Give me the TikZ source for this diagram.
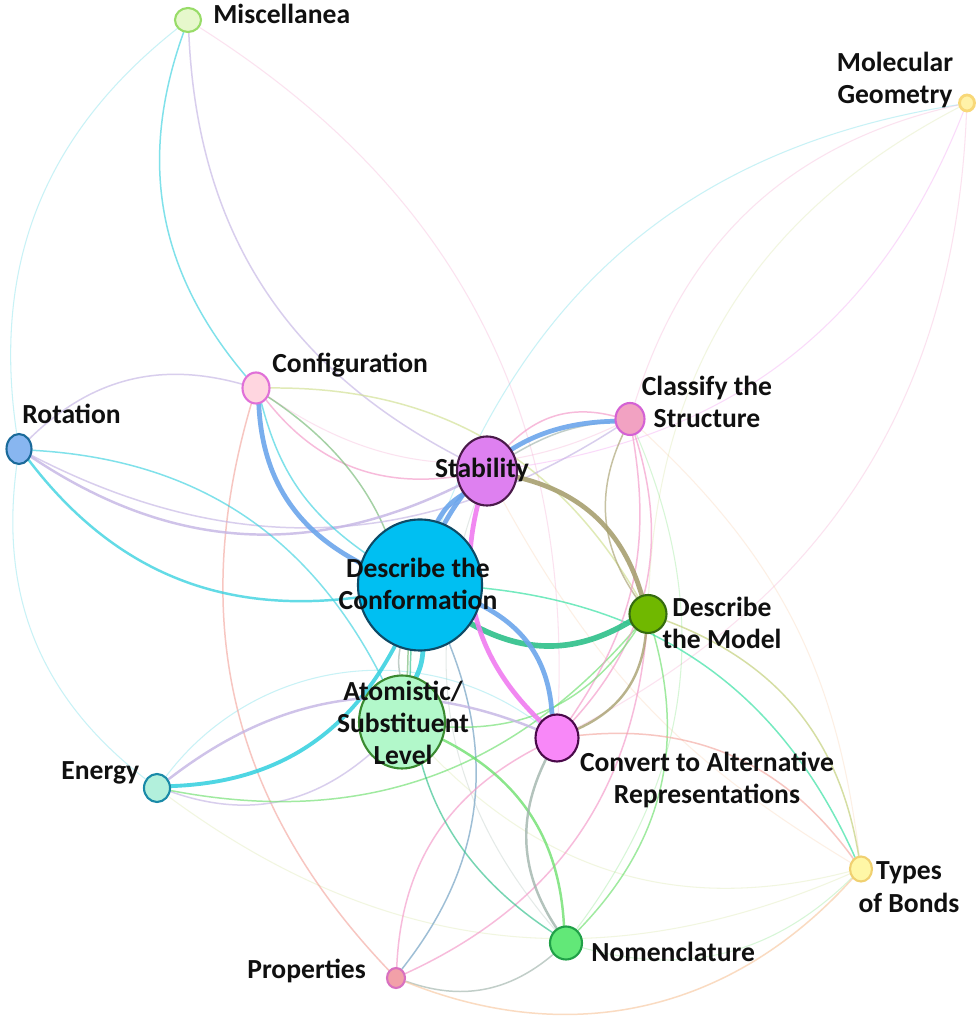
\documentclass[tikz,border=0pt]{standalone}
\usepackage{fontspec}
\setmainfont{Carlito}
\usepackage{tikz}
\usetikzlibrary{shapes.geometric}
\definecolor{ink}{HTML}{101010}
% vertex colours
\definecolor{nConf}{HTML}{00BFF2}\definecolor{bConf}{HTML}{0E4A66}
\definecolor{nStab}{HTML}{DE80F0}\definecolor{bStab}{HTML}{4A1A4A}
\definecolor{nClass}{HTML}{F2A2C2}\definecolor{bClass}{HTML}{D462D4}
\definecolor{nConfig}{HTML}{FFD6E0}\definecolor{bConfig}{HTML}{E070D8}
\definecolor{nRot}{HTML}{88B6F0}\definecolor{bRot}{HTML}{1A6A9A}
\definecolor{nMisc}{HTML}{E6F8CC}\definecolor{bMisc}{HTML}{98DC68}
\definecolor{nGeo}{HTML}{FFF2A8}\definecolor{bGeo}{HTML}{F8D878}
\definecolor{nModel}{HTML}{70B800}\definecolor{bModel}{HTML}{356B10}
\definecolor{nAtom}{HTML}{B2F8CA}\definecolor{bAtom}{HTML}{3A8A30}
\definecolor{nConv}{HTML}{F888F8}\definecolor{bConv}{HTML}{4A0A4A}
\definecolor{nEnergy}{HTML}{B2F0DC}\definecolor{bEnergy}{HTML}{1A8AA8}
\definecolor{nBonds}{HTML}{FFF7A6}\definecolor{bBonds}{HTML}{F0D070}
\definecolor{nNomen}{HTML}{62E878}\definecolor{bNomen}{HTML}{20A048}
\definecolor{nProps}{HTML}{F2A0A8}\definecolor{bProps}{HTML}{D870C0}
% edge colours
\definecolor{eblue}{HTML}{6CA6EC}
\definecolor{ecyan}{HTML}{3CD2E0}
\definecolor{eteal}{HTML}{2EC08A}
\definecolor{emag}{HTML}{F07CF0}
\definecolor{eolive}{HTML}{A8A070}
\definecolor{egreen}{HTML}{6EE06E}
\definecolor{epink}{HTML}{F498C8}
\definecolor{elav}{HTML}{C4B4E4}
\definecolor{eyg}{HTML}{D0E090}
\definecolor{epeach}{HTML}{F8C8A0}
\definecolor{egray}{HTML}{A0B4AC}
\definecolor{esteel}{HTML}{6A9CC0}
\definecolor{esalmon}{HTML}{F4A8A0}
\pgfdeclarelayer{edges}
\pgfsetlayers{edges,main}
\tikzset{
  vtx/.style 2 args={ellipse, draw, line width=1.2pt, inner sep=0pt,
    minimum width=#1, minimum height=#2},
  lab/.style={text=ink, inner sep=0pt,
    font=\fontsize{15.7}{18.4}\selectfont\bfseries},
  labm/.style={lab, align=center},
  wfaint/.style={line width=0.6pt, draw opacity=0.28, line cap=round},
  wthin/.style={line width=0.85pt, draw opacity=0.65, line cap=round},
  wmid/.style={line width=1.4pt, draw opacity=0.8, line cap=round},
  wbig/.style={line width=2.7pt, draw opacity=0.9, line cap=round},
}

\begin{document}
\begin{tikzpicture}[x=0.2mm,y=0.2mm]
  \useasboundingbox (0,0) rectangle (980,1020);
  % vertices
  \node[vtx={24.8mm}{26.2mm}, fill=nConf, draw=bConf] (conf) at (420,435) {};
  \node[vtx={17.2mm}{18.6mm}, fill=nAtom, draw=bAtom] (atom) at (402,298) {};
  \node[vtx={12mm}{13.8mm}, fill=nStab, draw=bStab] (stab) at (487,549) {};
  \node[vtx={8.6mm}{9.4mm}, fill=nConv, draw=bConv] (convert) at (557,282) {};
  \node[vtx={7.4mm}{7.6mm}, fill=nModel, draw=bModel] (model) at (648,406) {};
  \node[vtx={5.8mm}{6.4mm}, fill=nClass, draw=bClass] (classify) at (630,601) {};
  \node[vtx={5.4mm}{6.2mm}, fill=nConfig, draw=bConfig] (config) at (256,632) {};
  \node[vtx={5mm}{6mm}, fill=nRot, draw=bRot] (rot) at (19,571) {};
  \node[vtx={5.2mm}{4.8mm}, fill=nMisc, draw=bMisc] (misc) at (188,1000) {};
  \node[vtx={5.2mm}{5.6mm}, fill=nEnergy, draw=bEnergy] (energy) at (157,232) {};
  \node[vtx={3.6mm}{4mm}, fill=nProps, draw=bProps] (props) at (396,42) {};
  \node[vtx={6.4mm}{6.6mm}, fill=nNomen, draw=bNomen] (nomen) at (566,77) {};
  \node[vtx={4.4mm}{5mm}, fill=nBonds, draw=bBonds] (bonds) at (861,151) {};
  \node[vtx={3mm}{3.2mm}, fill=nGeo, draw=bGeo, line width=1.6pt] (molgeo) at (967,917) {};
  % labels
  \node[lab, anchor=base west] (misc-l) at (213,996) {Miscellanea};
  \node[labm] (molgeo-l) at (895,940) {Molecular\\Geometry};
  \node[lab, anchor=base west] (config-l) at (272,647) {Configuration};
  \node[lab, anchor=base west] (rot-l) at (22,596) {Rotation};
  \node[labm] (classify-l) at (707,618) {Classify the\\Structure};
  \node[lab, anchor=base] (stab-l) at (482,542) {Stability};
  \node[labm] (conf-l) at (418,436) {Describe the\\Conformation};
  \node[labm] (model-l) at (722,397) {Describe\\the Model};
  \node[labm] (atom-l) at (403,297) {Atomistic/\\Substituent\\Level};
  \node[labm] (convert-l) at (707,240) {Convert to Alternative\\Representations};
  \node[lab, anchor=base west] (energy-l) at (61,240) {Energy};
  \node[labm] (bonds-l) at (909,133) {Types\\of Bonds};
  \node[lab, anchor=base west] (nomen-l) at (591,58) {Nomenclature};
  \node[lab, anchor=base west] (props-l) at (247,41) {Properties};
  % connectors
  \begin{pgfonlayer}{edges}
    \fill[white] (0,0) rectangle (980,1020);
    \draw[wfaint, ecyan] (misc) to[bend right] (rot);
    \draw[wfaint, epink] (misc) to[bend left] (convert);
    \draw[wfaint, ecyan] (molgeo) to[bend right] (conf);
    \draw[wfaint, epink] (molgeo) to[bend right] (classify);
    \draw[wfaint, eyg] (molgeo) to[bend right] (model);
    \draw[wfaint, emag] (molgeo) to[bend left] (stab);
    \draw[wfaint, epink] (molgeo) to[bend left] (convert);
    \draw[wfaint, ecyan] (rot) to[bend right] (energy);
    \draw[wfaint, eyg] (energy) to[bend right] (bonds);
    \draw[wfaint, epeach] (stab) to[bend right=15] (bonds);
    \draw[wfaint, epeach] (classify) to[bend left=20] (bonds);
    \draw[wfaint, eyg] (bonds) to[bend left] (atom);
    \draw[wfaint, egreen] (nomen) to[bend right] (bonds);
    \draw[wfaint, egray] (stab) to[bend right] (nomen);
    \draw[wfaint, egreen] (nomen) to[bend right] (classify);
    \draw[wfaint, epink] (config) to[bend right] (classify);
    \draw[wfaint, ecyan] (energy) to[bend left=45] (convert);
    \draw[wthin, ecyan] (misc) to[bend right] (config);
    \draw[wthin, elav] (misc) to[bend right] (stab);
    \draw[wthin, elav] (config) to[bend right] (rot);
    \draw[wthin, epink] (config) to[bend right] (stab);
    \draw[wthin, eyg] (config) to[bend left] (model);
    \draw[wthin, egreen!60!gray] (config) to[bend left] (atom);
    \draw[wthin, esalmon] (config) to[bend right] (props);
    \draw[wmid, ecyan] (rot) to[bend right] (conf);
    \draw[wthin, elav] (rot) to[bend right] (classify);
    \draw[wmid, elav] (rot) to[bend right] (stab);
    \draw[wthin, ecyan] (rot) to[bend left] (atom);
    \draw[wthin, elav] (energy) to[bend right] (atom);
    \draw[wthin, egreen] (energy) to[bend right] (model);
    \draw[wthin, esteel] (props) to[bend right] (conf);
    \draw[wthin, epink] (props) to[bend left] (convert);
    \draw[wthin, epink] (props) to[bend right] (model);
    \draw[wthin, egray] (props) to[bend right] (nomen);
    \draw[wthin, epeach] (props) to[bend right=35] (bonds);
    \draw[wmid, egreen] (nomen) to[bend right] (atom);
    \draw[wthin, eteal] (conf) to[bend right] (nomen);
    \draw[wmid, egray] (convert) to[bend right] (nomen);
    \draw[wthin, egreen] (nomen) to[bend right] (model);
    \draw[wthin, eyg!80!olive] (model) to[bend left] (bonds);
    \draw[wthin, ecyan!70!green] (conf) to[bend left] (bonds);
    \draw[wthin, esalmon] (convert) to[bend left] (bonds);
    \draw[wthin, eolive] (classify) to[bend right] (model);
    \draw[wthin, epink] (classify) to[bend left] (convert);
    \draw[wthin, epink] (classify) to[bend left=22] (convert);
    \draw[wthin, epink] (stab) to[bend left] (classify);
    \draw[wthin, egray] (stab) to[bend left=12] (classify);
    \draw[wthin, egreen] (atom) to[bend right] (model);
    \draw[wthin, egray] (conf) to[bend right=10] (atom);
    \draw[wbig, ecyan, line width=2.2pt] (energy) to[bend right] (conf);
    \draw[wmid, elav] (energy) to[bend left] (convert);
    \draw[wbig, eblue] (config) to[bend right] (conf);
    \draw[wthin, ecyan] (config) to[bend right=20] (conf);
    \draw[wbig, eblue] (conf) to[bend left] (classify);
    \draw[wbig, eblue] (conf) to[bend left=15] (stab);
    \draw[wbig, eteal, line width=3.2pt] (conf) to[bend right] (model);
    \draw[wbig, eblue] (conf) to[bend left] (convert);
    \draw[wbig, emag] (stab) to[bend right] (convert);
    \draw[wbig, eolive] (stab) to[bend left] (model);
    \draw[wmid, eolive] (model) to[bend left] (convert);
    \draw[wbig, ecyan] (conf) to[bend left=10] (atom);
  \end{pgfonlayer}
\end{tikzpicture}
\end{document}
